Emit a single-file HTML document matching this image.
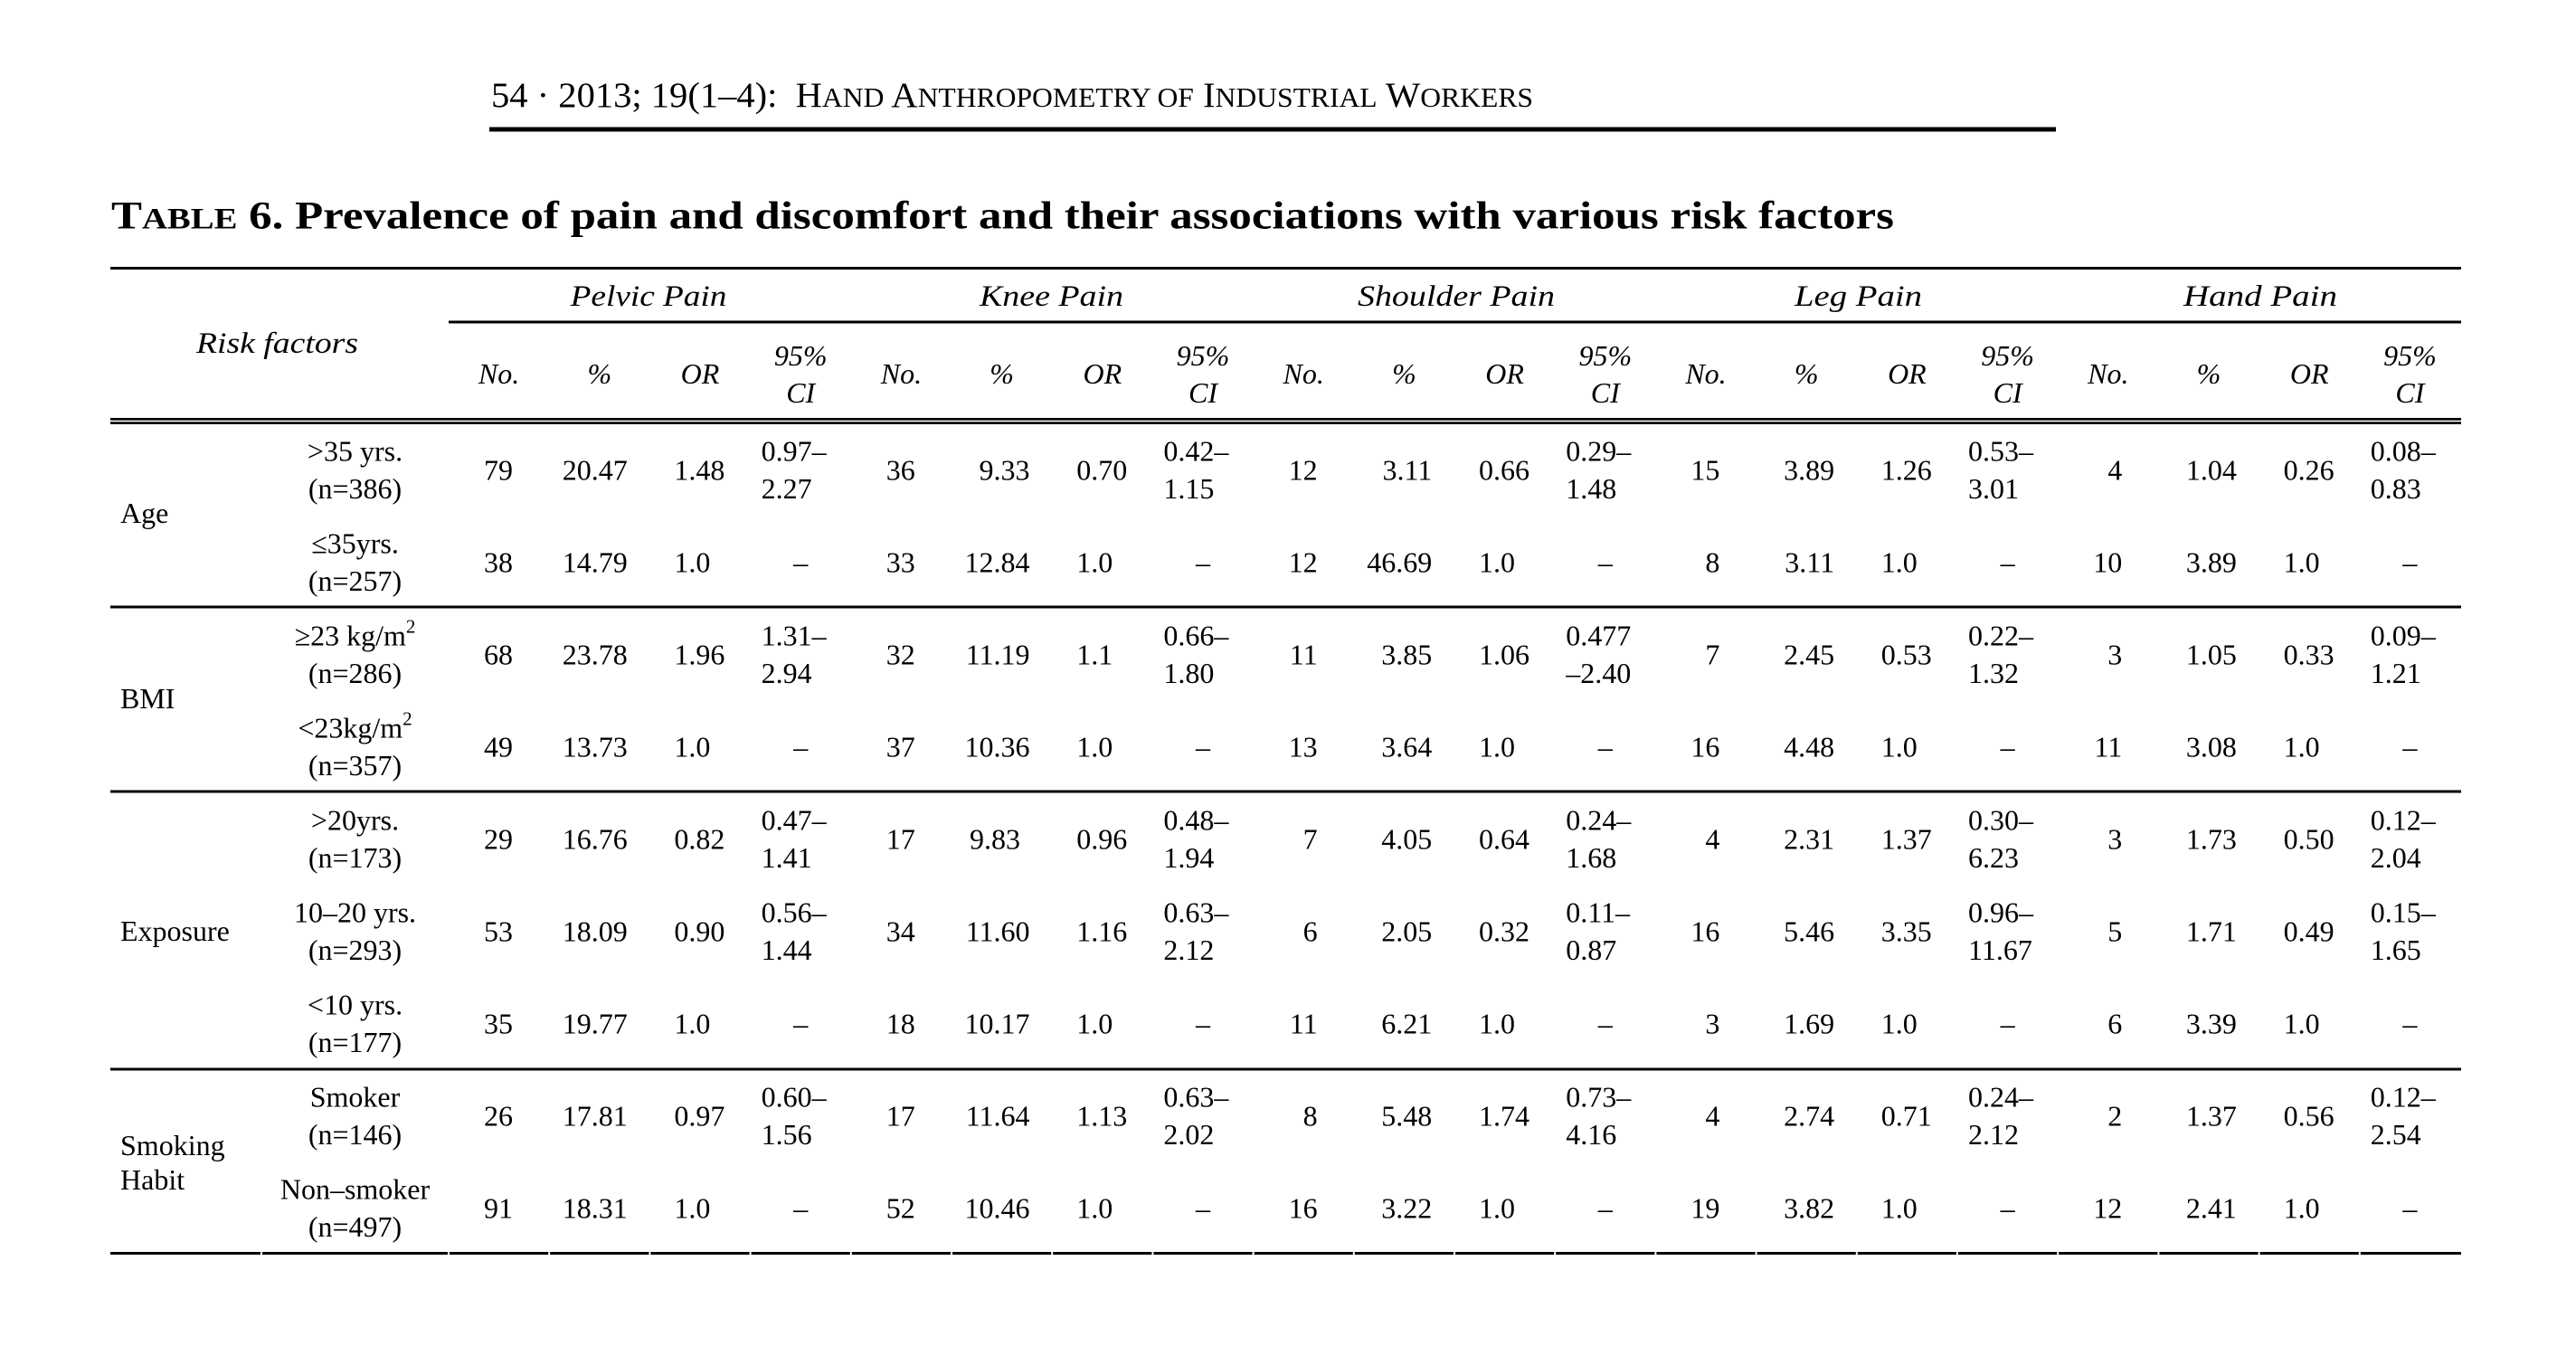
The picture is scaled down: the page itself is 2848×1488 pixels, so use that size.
<!DOCTYPE html>
<html>
<head>
<meta charset="utf-8">
<style>
html,body{margin:0;padding:0;background:#fff;}
svg{display:block;}
text{font-family:"Liberation Serif","Times New Roman",serif;fill:#000;}
</style>
</head>
<body>
<svg width="2848" height="1488" viewBox="0 0 2848 1488" xmlns="http://www.w3.org/2000/svg">
<rect x="0" y="0" width="2848" height="1488" fill="#fff"/>

<!-- Running header -->
<text x="543" y="118" font-size="39.5" textLength="1152" lengthAdjust="spacingAndGlyphs" style="white-space:pre">54 · 2013; 19(1–4):  H<tspan font-size="30.8">AND</tspan> A<tspan font-size="30.8">NTHROPOMETRY OF</tspan> I<tspan font-size="30.8">NDUSTRIAL</tspan> W<tspan font-size="30.8">ORKERS</tspan></text>
<rect x="541" y="140.5" width="1732" height="5" fill="#000"/>

<!-- Title -->
<text x="123" y="252.7" font-size="43" font-weight="bold" textLength="1971" lengthAdjust="spacingAndGlyphs">T<tspan font-size="32.7">ABLE</tspan> 6. Prevalence of pain and discomfort and their associations with various risk factors</text>

<!-- Rules -->
<rect x="122" y="295" width="2599" height="3" fill="#000"/>
<rect x="496" y="354.5" width="2225" height="3" fill="#000"/>
<rect x="122" y="462" width="2599" height="2.7" fill="#000"/>
<rect x="122" y="466.3" width="2599" height="2.7" fill="#000"/>
<rect x="122" y="669.5" width="2599" height="3" fill="#000"/>
<rect x="122" y="873.5" width="2599" height="3" fill="#000"/>
<rect x="122" y="1180.5" width="2599" height="3" fill="#000"/>
<rect x="122" y="1384" width="2599" height="3" fill="#000"/>
<!-- gaps in bottom rule -->
<g fill="#fff">
<rect x="288" y="1383" width="2" height="5"/>
<rect x="495" y="1383" width="2" height="5"/>
<rect x="606.2" y="1383" width="2" height="5"/>
<rect x="717.4" y="1383" width="2" height="5"/>
<rect x="828.6" y="1383" width="2" height="5"/>
<rect x="939.8" y="1383" width="2" height="5"/>
<rect x="1051" y="1383" width="2" height="5"/>
<rect x="1162.2" y="1383" width="2" height="5"/>
<rect x="1273.4" y="1383" width="2" height="5"/>
<rect x="1384.6" y="1383" width="2" height="5"/>
<rect x="1495.8" y="1383" width="2" height="5"/>
<rect x="1607" y="1383" width="2" height="5"/>
<rect x="1718.2" y="1383" width="2" height="5"/>
<rect x="1829.4" y="1383" width="2" height="5"/>
<rect x="1940.6" y="1383" width="2" height="5"/>
<rect x="2051.8" y="1383" width="2" height="5"/>
<rect x="2163" y="1383" width="2" height="5"/>
<rect x="2274.2" y="1383" width="2" height="5"/>
<rect x="2385.4" y="1383" width="2" height="5"/>
<rect x="2496.6" y="1383" width="2" height="5"/>
<rect x="2607.8" y="1383" width="2" height="5"/>
</g>

<!-- Header labels -->
<g font-style="italic" font-size="33">
<text x="217" y="390" textLength="179" lengthAdjust="spacingAndGlyphs">Risk factors</text>
<text x="630.7" y="338" textLength="172.7" lengthAdjust="spacingAndGlyphs">Pelvic Pain</text>
<text x="1083" y="338" textLength="159" lengthAdjust="spacingAndGlyphs">Knee Pain</text>
<text x="1501" y="338" textLength="218" lengthAdjust="spacingAndGlyphs">Shoulder Pain</text>
<text x="1984" y="338" textLength="141" lengthAdjust="spacingAndGlyphs">Leg Pain</text>
<text x="2414" y="338" textLength="170" lengthAdjust="spacingAndGlyphs">Hand Pain</text>
</g>
<g font-style="italic" font-size="32" text-anchor="middle">
<text x="551.6" y="424">No.</text><text x="662.8" y="424">%</text><text x="774" y="424">OR</text><text x="885.2" y="404">95%</text><text x="885.2" y="445">CI</text>
<text x="996.4" y="424">No.</text><text x="1107.6" y="424">%</text><text x="1218.8" y="424">OR</text><text x="1330" y="404">95%</text><text x="1330" y="445">CI</text>
<text x="1441.2" y="424">No.</text><text x="1552.4" y="424">%</text><text x="1663.6" y="424">OR</text><text x="1774.8" y="404">95%</text><text x="1774.8" y="445">CI</text>
<text x="1886" y="424">No.</text><text x="1997.2" y="424">%</text><text x="2108.4" y="424">OR</text><text x="2219.6" y="404">95%</text><text x="2219.6" y="445">CI</text>
<text x="2330.8" y="424">No.</text><text x="2442" y="424">%</text><text x="2553.2" y="424">OR</text><text x="2664.4" y="404">95%</text><text x="2664.4" y="445">CI</text>
</g>

<!-- Left group labels -->
<g font-size="32">
<text x="133" y="578">Age</text>
<text x="133" y="783">BMI</text>
<text x="133" y="1040">Exposure</text>
<text x="133" y="1277">Smoking</text>
<text x="133" y="1315">Habit</text>
</g>

<!-- Sub labels -->
<g font-size="32" text-anchor="middle">
<text x="392.5" y="509.7">&gt;35 yrs.</text><text x="392.5" y="551">(n=386)</text>
<text x="392.5" y="611.7">≤35yrs.</text><text x="392.5" y="653">(n=257)</text>
<text x="392.5" y="713.7">≥23 kg/m<tspan font-size="21" dy="-14">2</tspan></text><text x="392.5" y="755">(n=286)</text>
<text x="392.5" y="815.7">&lt;23kg/m<tspan font-size="21" dy="-14">2</tspan></text><text x="392.5" y="857">(n=357)</text>
<text x="392.5" y="917.7">&gt;20yrs.</text><text x="392.5" y="959">(n=173)</text>
<text x="392.5" y="1019.7">10–20 yrs.</text><text x="392.5" y="1061">(n=293)</text>
<text x="392.5" y="1121.7">&lt;10 yrs.</text><text x="392.5" y="1163">(n=177)</text>
<text x="392.5" y="1223.7">Smoker</text><text x="392.5" y="1265">(n=146)</text>
<text x="392.5" y="1325.7">Non–smoker</text><text x="392.5" y="1367">(n=497)</text>
</g>

<!-- No. columns (right aligned) -->
<g font-size="32" text-anchor="end">
<text x="567" y="530.7">79</text><text x="1011.8" y="530.7">36</text><text x="1456.6" y="530.7">12</text><text x="1901.4" y="530.7">15</text><text x="2346.2" y="530.7">4</text>
<text x="567" y="632.7">38</text><text x="1011.8" y="632.7">33</text><text x="1456.6" y="632.7">12</text><text x="1901.4" y="632.7">8</text><text x="2346.2" y="632.7">10</text>
<text x="567" y="734.7">68</text><text x="1011.8" y="734.7">32</text><text x="1456.6" y="734.7">11</text><text x="1901.4" y="734.7">7</text><text x="2346.2" y="734.7">3</text>
<text x="567" y="836.7">49</text><text x="1011.8" y="836.7">37</text><text x="1456.6" y="836.7">13</text><text x="1901.4" y="836.7">16</text><text x="2346.2" y="836.7">11</text>
<text x="567" y="938.7">29</text><text x="1011.8" y="938.7">17</text><text x="1456.6" y="938.7">7</text><text x="1901.4" y="938.7">4</text><text x="2346.2" y="938.7">3</text>
<text x="567" y="1040.7">53</text><text x="1011.8" y="1040.7">34</text><text x="1456.6" y="1040.7">6</text><text x="1901.4" y="1040.7">16</text><text x="2346.2" y="1040.7">5</text>
<text x="567" y="1142.7">35</text><text x="1011.8" y="1142.7">18</text><text x="1456.6" y="1142.7">11</text><text x="1901.4" y="1142.7">3</text><text x="2346.2" y="1142.7">6</text>
<text x="567" y="1244.7">26</text><text x="1011.8" y="1244.7">17</text><text x="1456.6" y="1244.7">8</text><text x="1901.4" y="1244.7">4</text><text x="2346.2" y="1244.7">2</text>
<text x="567" y="1346.7">91</text><text x="1011.8" y="1346.7">52</text><text x="1456.6" y="1346.7">16</text><text x="1901.4" y="1346.7">19</text><text x="2346.2" y="1346.7">12</text>

<!-- % columns (right aligned) -->
<text x="693.7" y="530.7">20.47</text><text x="1138.5" y="530.7">9.33</text><text x="1583.3" y="530.7">3.11</text><text x="2028.1" y="530.7">3.89</text><text x="2472.9" y="530.7">1.04</text>
<text x="693.7" y="632.7">14.79</text><text x="1138.5" y="632.7">12.84</text><text x="1583.3" y="632.7">46.69</text><text x="2028.1" y="632.7">3.11</text><text x="2472.9" y="632.7">3.89</text>
<text x="693.7" y="734.7">23.78</text><text x="1138.5" y="734.7">11.19</text><text x="1583.3" y="734.7">3.85</text><text x="2028.1" y="734.7">2.45</text><text x="2472.9" y="734.7">1.05</text>
<text x="693.7" y="836.7">13.73</text><text x="1138.5" y="836.7">10.36</text><text x="1583.3" y="836.7">3.64</text><text x="2028.1" y="836.7">4.48</text><text x="2472.9" y="836.7">3.08</text>
<text x="693.7" y="938.7">16.76</text><text x="1128" y="938.7">9.83</text><text x="1583.3" y="938.7">4.05</text><text x="2028.1" y="938.7">2.31</text><text x="2472.9" y="938.7">1.73</text>
<text x="693.7" y="1040.7">18.09</text><text x="1138.5" y="1040.7">11.60</text><text x="1583.3" y="1040.7">2.05</text><text x="2028.1" y="1040.7">5.46</text><text x="2472.9" y="1040.7">1.71</text>
<text x="693.7" y="1142.7">19.77</text><text x="1138.5" y="1142.7">10.17</text><text x="1583.3" y="1142.7">6.21</text><text x="2028.1" y="1142.7">1.69</text><text x="2472.9" y="1142.7">3.39</text>
<text x="693.7" y="1244.7">17.81</text><text x="1138.5" y="1244.7">11.64</text><text x="1583.3" y="1244.7">5.48</text><text x="2028.1" y="1244.7">2.74</text><text x="2472.9" y="1244.7">1.37</text>
<text x="693.7" y="1346.7">18.31</text><text x="1138.5" y="1346.7">10.46</text><text x="1583.3" y="1346.7">3.22</text><text x="2028.1" y="1346.7">3.82</text><text x="2472.9" y="1346.7">2.41</text>
</g>

<!-- OR columns (left aligned) -->
<g font-size="32" text-anchor="start">
<text x="745.4" y="530.7">1.48</text><text x="1190.2" y="530.7">0.70</text><text x="1635" y="530.7">0.66</text><text x="2079.8" y="530.7">1.26</text><text x="2524.6" y="530.7">0.26</text>
<text x="745.4" y="632.7">1.0</text><text x="1190.2" y="632.7">1.0</text><text x="1635" y="632.7">1.0</text><text x="2079.8" y="632.7">1.0</text><text x="2524.6" y="632.7">1.0</text>
<text x="745.4" y="734.7">1.96</text><text x="1190.2" y="734.7">1.1</text><text x="1635" y="734.7">1.06</text><text x="2079.8" y="734.7">0.53</text><text x="2524.6" y="734.7">0.33</text>
<text x="745.4" y="836.7">1.0</text><text x="1190.2" y="836.7">1.0</text><text x="1635" y="836.7">1.0</text><text x="2079.8" y="836.7">1.0</text><text x="2524.6" y="836.7">1.0</text>
<text x="745.4" y="938.7">0.82</text><text x="1190.2" y="938.7">0.96</text><text x="1635" y="938.7">0.64</text><text x="2079.8" y="938.7">1.37</text><text x="2524.6" y="938.7">0.50</text>
<text x="745.4" y="1040.7">0.90</text><text x="1190.2" y="1040.7">1.16</text><text x="1635" y="1040.7">0.32</text><text x="2079.8" y="1040.7">3.35</text><text x="2524.6" y="1040.7">0.49</text>
<text x="745.4" y="1142.7">1.0</text><text x="1190.2" y="1142.7">1.0</text><text x="1635" y="1142.7">1.0</text><text x="2079.8" y="1142.7">1.0</text><text x="2524.6" y="1142.7">1.0</text>
<text x="745.4" y="1244.7">0.97</text><text x="1190.2" y="1244.7">1.13</text><text x="1635" y="1244.7">1.74</text><text x="2079.8" y="1244.7">0.71</text><text x="2524.6" y="1244.7">0.56</text>
<text x="745.4" y="1346.7">1.0</text><text x="1190.2" y="1346.7">1.0</text><text x="1635" y="1346.7">1.0</text><text x="2079.8" y="1346.7">1.0</text><text x="2524.6" y="1346.7">1.0</text>

<!-- CI ranges (left aligned, two lines) -->
<text x="841.6" y="509.7">0.97–</text><text x="841.6" y="551">2.27</text>
<text x="1286.4" y="509.7">0.42–</text><text x="1286.4" y="551">1.15</text>
<text x="1731.2" y="509.7">0.29–</text><text x="1731.2" y="551">1.48</text>
<text x="2176" y="509.7">0.53–</text><text x="2176" y="551">3.01</text>
<text x="2620.8" y="509.7">0.08–</text><text x="2620.8" y="551">0.83</text>

<text x="841.6" y="713.7">1.31–</text><text x="841.6" y="755">2.94</text>
<text x="1286.4" y="713.7">0.66–</text><text x="1286.4" y="755">1.80</text>
<text x="1731.2" y="713.7">0.477</text><text x="1731.2" y="755">–2.40</text>
<text x="2176" y="713.7">0.22–</text><text x="2176" y="755">1.32</text>
<text x="2620.8" y="713.7">0.09–</text><text x="2620.8" y="755">1.21</text>

<text x="841.6" y="917.7">0.47–</text><text x="841.6" y="959">1.41</text>
<text x="1286.4" y="917.7">0.48–</text><text x="1286.4" y="959">1.94</text>
<text x="1731.2" y="917.7">0.24–</text><text x="1731.2" y="959">1.68</text>
<text x="2176" y="917.7">0.30–</text><text x="2176" y="959">6.23</text>
<text x="2620.8" y="917.7">0.12–</text><text x="2620.8" y="959">2.04</text>

<text x="841.6" y="1019.7">0.56–</text><text x="841.6" y="1061">1.44</text>
<text x="1286.4" y="1019.7">0.63–</text><text x="1286.4" y="1061">2.12</text>
<text x="1731.2" y="1019.7">0.11–</text><text x="1731.2" y="1061">0.87</text>
<text x="2176" y="1019.7">0.96–</text><text x="2176" y="1061">11.67</text>
<text x="2620.8" y="1019.7">0.15–</text><text x="2620.8" y="1061">1.65</text>

<text x="841.6" y="1223.7">0.60–</text><text x="841.6" y="1265">1.56</text>
<text x="1286.4" y="1223.7">0.63–</text><text x="1286.4" y="1265">2.02</text>
<text x="1731.2" y="1223.7">0.73–</text><text x="1731.2" y="1265">4.16</text>
<text x="2176" y="1223.7">0.24–</text><text x="2176" y="1265">2.12</text>
<text x="2620.8" y="1223.7">0.12–</text><text x="2620.8" y="1265">2.54</text>
</g>

<!-- CI dashes (centered) -->
<g font-size="32" text-anchor="middle">
<text x="885.2" y="632.7">–</text><text x="1330" y="632.7">–</text><text x="1774.8" y="632.7">–</text><text x="2219.6" y="632.7">–</text><text x="2664.4" y="632.7">–</text>
<text x="885.2" y="836.7">–</text><text x="1330" y="836.7">–</text><text x="1774.8" y="836.7">–</text><text x="2219.6" y="836.7">–</text><text x="2664.4" y="836.7">–</text>
<text x="885.2" y="1142.7">–</text><text x="1330" y="1142.7">–</text><text x="1774.8" y="1142.7">–</text><text x="2219.6" y="1142.7">–</text><text x="2664.4" y="1142.7">–</text>
<text x="885.2" y="1346.7">–</text><text x="1330" y="1346.7">–</text><text x="1774.8" y="1346.7">–</text><text x="2219.6" y="1346.7">–</text><text x="2664.4" y="1346.7">–</text>
</g>
</svg>
</body>
</html>
